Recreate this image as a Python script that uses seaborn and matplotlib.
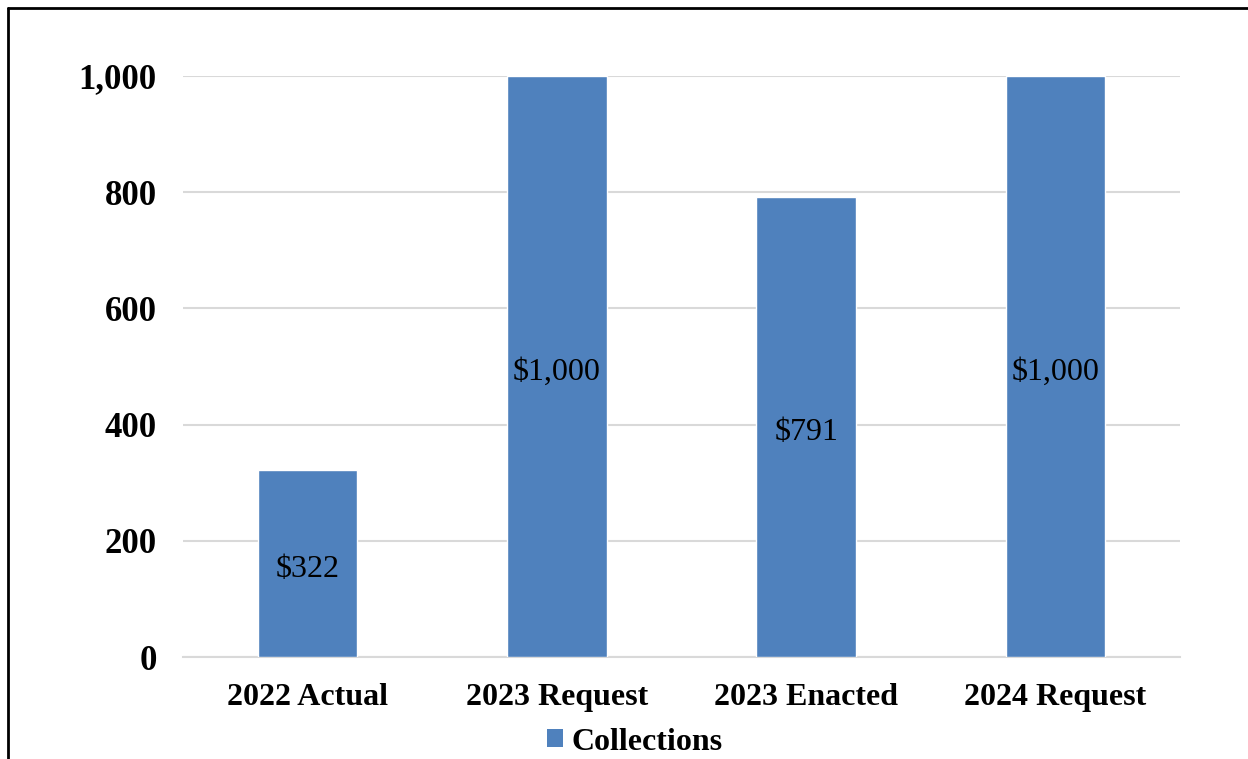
import matplotlib
matplotlib.use("Agg")
import matplotlib.pyplot as plt
import seaborn as sns
import pandas as pd
from matplotlib.lines import Line2D
from matplotlib.patches import Patch
from matplotlib.ticker import FuncFormatter
from matplotlib.transforms import offset_copy

categories = ["2022 Actual", "2023 Request", "2023 Enacted", "2024 Request"]
collections = [322, 1000, 791, 1000]
value_labels = ["$322", "$1,000", "$791", "$1,000"]
yticks = [0, 200, 400, 600, 800, 1000]
series_name = "Collections"

bar_color = "#4F81BD"

sns.set_theme(style="white")
plt.rcParams["font.family"] = ["Liberation Serif", "DejaVu Serif"]
plt.rcParams["text.color"] = "black"
plt.rcParams["xtick.color"] = "black"
plt.rcParams["ytick.color"] = "black"

df = pd.DataFrame({"category": categories, "value": collections})

fig = plt.figure(figsize=(12.48, 7.59), dpi=100)
ax = fig.add_axes([183 / 1248, 1 - 657 / 759, (1180 - 183) / 1248, (657 - 76) / 759])

sns.barplot(data=df, x="category", y="value", color=bar_color, width=0.4,
            saturation=1, ax=ax, zorder=3)

ax.set_ylim(0, 1000)
ax.set_yticks(yticks)
ax.yaxis.set_major_formatter(FuncFormatter(lambda v, p: f"{int(v):,}"))
ax.grid(axis="y", color="#D9D9D9", linewidth=1.5, zorder=0)
ax.set_axisbelow(True)
for s in ["top", "right", "left"]:
    ax.spines[s].set_visible(False)
ax.spines["bottom"].set_color("#D9D9D9")
ax.spines["bottom"].set_linewidth(1.5)
ax.set_xlabel("")
ax.set_ylabel("")
ax.tick_params(axis="y", length=0, pad=19, labelsize=25, labelcolor="black")
ax.tick_params(axis="x", length=0, pad=19, labelsize=23, labelcolor="black")
for lab in ax.get_xticklabels() + ax.get_yticklabels():
    lab.set_fontweight("bold")

label_tf = offset_copy(ax.transData, fig=fig, x=0, y=-4, units="points")
for i, (v, txt) in enumerate(zip(collections, value_labels)):
    ax.text(i, v / 2, txt, ha="center", va="center", fontsize=23, color="black",
            zorder=4, transform=label_tf)

handle = Patch(facecolor=bar_color, edgecolor="none")
fig.legend([handle], [series_name], loc="center", bbox_to_anchor=(635 / 1248, 1 - 742 / 759),
           frameon=False, prop={"size": 23, "weight": "bold"}, labelcolor="black",
           handlelength=0.5, handleheight=0.5, handletextpad=0.25, borderpad=0)

# frame lines along the top and left of the figure
fig.add_artist(Line2D([7.5 / 1248, 7.5 / 1248], [0, 1 - 8 / 759], color="black", linewidth=2,
                      transform=fig.transFigure))
fig.add_artist(Line2D([7.5 / 1248, 1], [1 - 8 / 759, 1 - 8 / 759], color="black", linewidth=2,
                      transform=fig.transFigure))

fig.savefig("out.png", dpi=100, facecolor="white")
